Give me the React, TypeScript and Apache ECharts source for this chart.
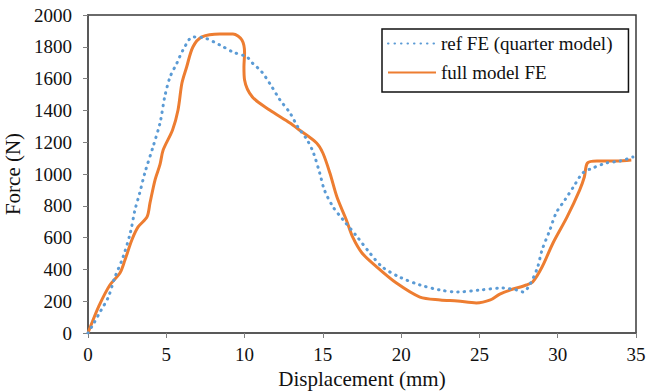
import React, { useEffect, useRef } from "react";
import * as echarts from "echarts";

const refX = [0, 0.38, 0.77, 1.3, 1.7, 2.24, 2.7, 3.0, 3.3, 3.64, 4.15, 4.6, 4.9, 5.24, 5.68, 6.07, 6.7, 7.47, 8.43, 9.26, 10.15, 10.5, 11.1, 11.75, 12.26, 12.9, 13.4, 14.0, 14.4, 14.8, 15.1, 15.65, 16.3, 17.2, 18.0, 18.8, 19.9, 21.2, 22.5, 23.6, 25.0, 26.5, 27.4, 27.8, 28.2, 28.7, 29.0, 29.5, 29.9, 30.46, 31.0, 31.6, 32.25, 33.1, 34.0, 34.8];
const refY = [0, 63, 132, 226, 346, 478, 629, 774, 880, 1010, 1170, 1321, 1485, 1610, 1698, 1780, 1862, 1855, 1811, 1767, 1736, 1698, 1642, 1547, 1466, 1384, 1296, 1214, 1132, 1006, 899, 793, 711, 604, 503, 415, 352, 302, 270, 258, 270, 283, 270, 258, 302, 409, 522, 648, 755, 837, 918, 1006, 1038, 1069, 1082, 1107];

const fullX = [0, 0.7, 1.4, 2.04, 2.36, 2.8, 3.2, 3.77, 3.96, 4.28, 4.6, 4.8, 5.4, 5.75, 6.0, 6.3, 6.7, 7.28, 8.43, 9.26, 9.83, 10.0, 9.96, 10.0, 10.5, 11.6, 12.9, 13.5, 14.6, 15.0, 15.45, 15.9, 16.5, 16.9, 17.5, 18.45, 19.7, 21.2, 22.5, 23.6, 24.8, 25.7, 26.3, 26.95, 28.0, 28.4, 29.0, 29.7, 30.6, 31.4, 31.7, 31.9, 32.5, 33.8, 34.7];
const fullY = [0, 170, 302, 377, 459, 585, 667, 730, 818, 962, 1060, 1151, 1277, 1403, 1572, 1673, 1799, 1862, 1881, 1881, 1843, 1761, 1673, 1591, 1484, 1403, 1321, 1277, 1195, 1132, 1006, 855, 711, 604, 503, 415, 314, 226, 208, 201, 189, 208, 245, 270, 302, 321, 415, 566, 730, 899, 981, 1069, 1082, 1082, 1088];

const seriesNames = ["ref FE (quarter model)", "full model FE"];
const xMin = 0, xMax = 35, xStep = 5;
const yMin = 0, yMax = 2000, yStep = 200;

const font = "serif";

export default function App() {
  const ref = useRef<HTMLDivElement>(null);
  useEffect(() => {
    const chart = echarts.init(ref.current!, null, { renderer: "svg" });
    const zip = (xs: number[], ys: number[]) => xs.map((x, i) => [x, ys[i]]);
    chart.setOption({
      animation: false,
      textStyle: { fontFamily: font },
      grid: {
        left: 88, right: 10, top: 15, bottom: 59,
        containLabel: false, outerBoundsMode: "none",
        show: true, borderColor: "#3a3a3a", borderWidth: 1.5,
      },
      legend: {
        orient: "vertical",
        left: 382, top: 29,
        borderColor: "#111", borderWidth: 1.5,
        padding: [5, 16, 10, 5],
        itemGap: 10,
        itemWidth: 48, itemHeight: 14,
        itemStyle: { opacity: 0 },
        textStyle: { fontFamily: font, fontSize: 19, color: "#111" },
        data: seriesNames,
      },
      xAxis: {
        type: "value", min: xMin, max: xMax, interval: xStep,
        name: "Displacement (mm)", nameLocation: "middle", nameGap: 29,
        nameTextStyle: { fontFamily: font, fontSize: 21, color: "#111" },
        axisLine: { lineStyle: { color: "#595959", width: 2 } },
        axisTick: { show: true, length: 5, lineStyle: { color: "#808080" } },
        axisLabel: { fontFamily: font, fontSize: 19, color: "#111", margin: 12, formatter: (v: number) => String(v) },
        splitLine: { show: false },
      },
      yAxis: {
        type: "value", min: yMin, max: yMax, interval: yStep,
        name: "Force (N)", nameLocation: "middle", nameGap: 56,
        nameTextStyle: { fontFamily: font, fontSize: 21, color: "#111" },
        axisLine: { show: true, lineStyle: { color: "#595959", width: 2 } },
        axisTick: { show: true, length: 5, lineStyle: { color: "#808080" } },
        axisLabel: { fontFamily: font, fontSize: 19, color: "#111", margin: 16, formatter: (v: number) => String(v) },
        splitLine: { show: false },
      },
      series: [
        {
          name: seriesNames[0], type: "line", smooth: 0.3, symbol: "none",
          data: zip(refX, refY),
          lineStyle: { color: "#5B9BD5", width: 3, type: [0.5, 6], cap: "round" },
          itemStyle: { color: "#5B9BD5" },
          z: 3,
        },
        {
          name: seriesNames[1], type: "line", smooth: 0.3, symbol: "none",
          data: zip(fullX, fullY),
          lineStyle: { color: "#ED7D31", width: 3 },
          itemStyle: { color: "#ED7D31" },
          z: 2,
        },
      ],
    });
    return () => chart.dispose();
  }, []);
  return <div ref={ref} style={{ width: 646, height: 392, position: "absolute", left: 0, top: 0 }} />;
}
